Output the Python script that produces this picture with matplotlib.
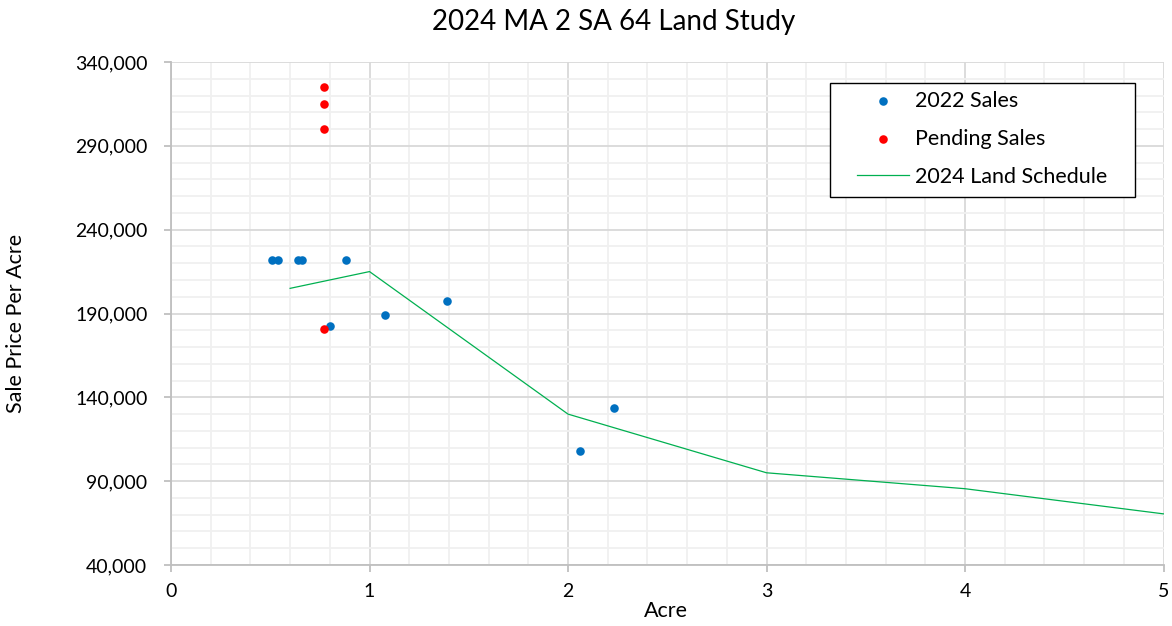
import numpy as np
import matplotlib
matplotlib.use("Agg")
import matplotlib.pyplot as plt
from matplotlib.ticker import MultipleLocator, FixedLocator, FuncFormatter
from matplotlib.patches import Rectangle

plt.rcParams['font.family'] = ['Lato', 'DejaVu Sans']

# 2022 sales: acreage and sale price per acre
sales_acre = [0.51, 0.54, 0.64, 0.66, 0.88, 0.80, 1.08, 1.39, 2.06, 2.23]
sales_price = [222000, 222000, 222000, 222000, 222000, 182700, 189200, 197500, 108200, 133500]

# Pending sales
pending_acre = [0.77, 0.77, 0.77, 0.77]
pending_price = [325000, 315000, 300000, 180500]

# 2024 land schedule
schedule_acre = [0.6, 1, 2, 3, 4, 5]
schedule_price = [205000, 215000, 130000, 95000, 85500, 70500]

y_ticks = [40000, 90000, 140000, 190000, 240000, 290000, 340000]

W, H = 1172, 626
fig = plt.figure(figsize=(W / 100, H / 100), dpi=100)
ax = fig.add_axes([171 / W, 1 - 565 / H, (1163.5 - 171) / W, (565 - 62) / H])

ax.plot(schedule_acre, schedule_price, color='#00B050', lw=0.9,
        label='2024 Land Schedule', zorder=3)
ax.scatter(sales_acre, sales_price, s=38, color='#0070C0', label='2022 Sales',
           zorder=4, linewidths=0)
ax.scatter(pending_acre, pending_price, s=38, color='#FF0000',
           label='Pending Sales', zorder=5, linewidths=0)

ax.set_xlim(0, 5)
ax.set_ylim(y_ticks[0], y_ticks[-1])
ax.xaxis.set_major_locator(MultipleLocator(1))
ax.xaxis.set_minor_locator(MultipleLocator(0.2))
ax.yaxis.set_major_locator(FixedLocator(y_ticks))
ax.yaxis.set_minor_locator(MultipleLocator(10000))
ax.yaxis.set_major_formatter(FuncFormatter(lambda v, p: f"{int(v):,}"))

ax.grid(which='major', color='#D9D9D9', lw=1.3, zorder=1)
ax.grid(which='minor', color='#F0F0F0', lw=1.3, zorder=0)
ax.set_axisbelow(True)

for side in ['top', 'right']:
    ax.spines[side].set_visible(False)
for side in ['left', 'bottom']:
    ax.spines[side].set_color('#BFBFBF')
    ax.spines[side].set_linewidth(1.3)

ax.tick_params(which='major', length=5, width=1.3, color='#BFBFBF',
               labelsize=14, labelcolor='#000000')
ax.tick_params(axis='x', which='major', pad=8)
ax.tick_params(axis='y', which='major', pad=12)
ax.tick_params(which='minor', length=0)

fig.text(666 / W, 1 - 611 / H, 'Acre', ha='center', va='center', fontsize=15.5)
fig.text(16 / W, 1 - 323 / H, 'Sale Price Per Acre', ha='center', va='center',
         rotation=90, fontsize=15.5)
fig.text(614 / W, 1 - 22 / H, '2024 MA 2 SA 64 Land Study',
         ha='center', va='center', fontsize=20)

# Legend box and entries
box = Rectangle((830 / W, 1 - 197 / H), (1135 - 830) / W, (197 - 83) / H,
                transform=fig.transFigure, facecolor='white',
                edgecolor='black', lw=1.0, zorder=6, clip_on=False)
ax.add_patch(box)
handles, labels = ax.get_legend_handles_labels()
order = [1, 2, 0]
leg = ax.legend([handles[i] for i in order], [labels[i] for i in order],
                loc='upper left', bbox_to_anchor=(857 / W, 1 - 91 / H),
                bbox_transform=fig.transFigure,
                fontsize=15.5, frameon=False, borderpad=0, labelspacing=0.83,
                handlelength=2.4, handletextpad=0.3, borderaxespad=0)
leg.set_zorder(7)

fig.savefig('out.png', dpi=100, facecolor='white')
